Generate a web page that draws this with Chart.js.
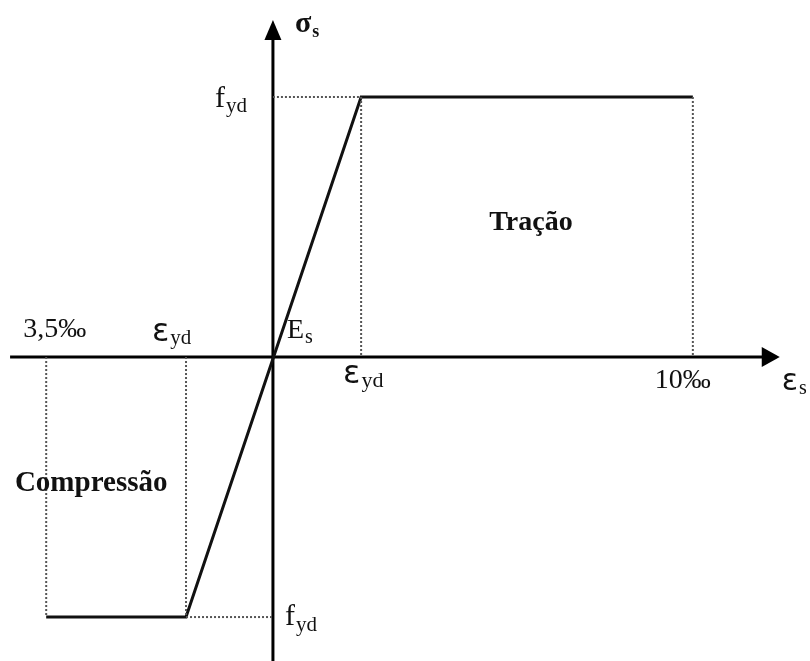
<!DOCTYPE html>
<html>
<head>
<meta charset="utf-8">
<script src="https://cdn.jsdelivr.net/npm/chart.js@4.4.0/dist/chart.umd.min.js"></script>
<style>
html, body { margin: 0; padding: 0; background: #fff; }
#wrap { width: 810px; height: 661px; }
</style>
</head>
<body>
<div id="wrap"><canvas id="chart" width="810" height="661"></canvas></div>
<script>
// strain in per mille as drawn (diagram is not to scale), stress normalised to fyd = 1
var strainPts = [-5.4, -2.07, 2.1, 10];
var stressPts = [-1, -1, 1, 1];
var epsLimitComp = -5.4;
var epsYdComp = -2.07;
var epsYdTrac = 2.1;
var epsLimitTrac = 10;
var fyd = 1;

var xRange = [-6.5, 12.79];
var yRange = [-1.169, 1.373];
var xAxisEnds = [-6.26, 12.07];
var yAxisEnds = [-1.169, 1.296];

function seg(x1, y1, x2, y2) {
    return [{x: x1, y: y1}, {x: x2, y: y2}];
}

var dotted = [
    seg(0, fyd, epsYdTrac, fyd),
    seg(epsYdTrac, fyd, epsYdTrac, 0),
    seg(epsLimitTrac, fyd, epsLimitTrac, 0),
    seg(epsLimitComp, 0, epsLimitComp, -fyd),
    seg(epsYdComp, 0, epsYdComp, -fyd),
    seg(epsYdComp, -fyd, 0, -fyd)
];

var datasets = [];
dotted.forEach(function(d) {
    datasets.push({data: d, borderColor: '#555', borderWidth: 2, borderDash: [2, 2], showLine: true, pointRadius: 0});
});
datasets.push({
    data: strainPts.map(function(v, i) { return {x: v, y: stressPts[i]}; }),
    borderColor: '#111', borderWidth: 3, showLine: true, pointRadius: 0
});
datasets.push({data: seg(xAxisEnds[0], 0, xAxisEnds[1] - 0.3, 0), borderColor: '#000', borderWidth: 3, showLine: true, pointRadius: 0});
datasets.push({data: seg(0, yAxisEnds[0], 0, yAxisEnds[1] - 0.05), borderColor: '#000', borderWidth: 3, showLine: true, pointRadius: 0});

var serif = '"Liberation Serif", "Times New Roman", serif';
var sans = '"DejaVu Sans", sans-serif';

// text labels: anchored to data coords, dx/dy offsets in px
var labels = [
    {t: 'σ', s: 's', ax: 0, ay: yAxisEnds[1], dx: 22, dy: 12, f: 'bold 30px ' + serif, sf: 'bold 18px ' + serif, sdy: 5},
    {t: 'f', s: 'yd', ax: 0, ay: fyd, dx: -58, dy: 10, f: '30px ' + serif, sf: '21px ' + serif, sdy: 5},
    {t: '3,5‰', ax: epsLimitComp, ay: 0, dx: -23, dy: -20, f: '28px ' + serif},
    {t: 'ε', s: 'yd', ax: epsYdComp, ay: 0, dx: -34, dy: -16, f: '32px ' + sans, sf: '21px ' + serif, sdy: 3},
    {t: 'E', s: 's', ax: 0, ay: 0, dx: 14, dy: -19, f: '28px ' + serif, sf: '20px ' + serif, sdy: 5},
    {t: 'ε', s: 'yd', ax: epsYdTrac, ay: 0, dx: -18, dy: 26, f: '32px ' + sans, sf: '22px ' + serif, sdy: 4},
    {t: '10‰', ax: epsLimitTrac, ay: 0, dx: -38, dy: 31, f: '28px ' + serif},
    {t: 'ε', s: 's', ax: xAxisEnds[1], ay: 0, dx: 2, dy: 33, f: '30px ' + sans, sf: '20px ' + serif, sdy: 4},
    {t: 'Compressão', ax: epsLimitComp, ay: -fyd / 2, dx: 45, dy: 4, f: 'bold 29px ' + serif, center: true},
    {t: 'Tração', ax: (epsYdTrac + epsLimitTrac) / 2, ay: fyd / 2, dx: 4, dy: 3, f: 'bold 28px ' + serif, center: true}
];
labels.push({t: 'f', s: 'yd', ax: 0, ay: -fyd, dx: 12, dy: 8, f: '30px ' + serif, sf: '21px ' + serif, sdy: 6});

var decor = {
    id: 'decor',
    afterDatasetsDraw: function(chart) {
        var ctx = chart.ctx;
        var xs = chart.scales.x, ys = chart.scales.y;
        var ox = xs.getPixelForValue(0), oy = ys.getPixelForValue(0);
        ctx.save();
        ctx.fillStyle = '#000';
        // x arrow
        var tx = xs.getPixelForValue(xAxisEnds[1]);
        ctx.beginPath();
        ctx.moveTo(tx, oy);
        ctx.lineTo(tx - 18, oy - 10);
        ctx.lineTo(tx - 18, oy + 10);
        ctx.closePath();
        ctx.fill();
        // y arrow
        var ty = ys.getPixelForValue(yAxisEnds[1]);
        ctx.beginPath();
        ctx.moveTo(ox, ty);
        ctx.lineTo(ox - 8.5, ty + 20);
        ctx.lineTo(ox + 8.5, ty + 20);
        ctx.closePath();
        ctx.fill();

        ctx.fillStyle = '#111';
        ctx.textBaseline = 'alphabetic';
        labels.forEach(function(l) {
            var px = xs.getPixelForValue(l.ax) + l.dx;
            var py = ys.getPixelForValue(l.ay) + l.dy;
            ctx.font = l.f;
            ctx.textAlign = l.center ? 'center' : 'left';
            ctx.fillText(l.t, px, py);
            if (l.s) {
                var w = ctx.measureText(l.t).width;
                ctx.font = l.sf;
                ctx.textAlign = 'left';
                ctx.fillText(l.s, px + w + 1, py + l.sdy);
            }
        });
        ctx.restore();
    }
};

new Chart(document.getElementById('chart'), {
    type: 'scatter',
    data: {datasets: datasets},
    options: {
        responsive: false,
        animation: false,
        layout: {padding: 0},
        plugins: {legend: {display: false}, tooltip: {enabled: false}},
        elements: {line: {tension: 0}},
        scales: {
            x: {type: 'linear', display: false, min: xRange[0], max: xRange[1]},
            y: {type: 'linear', display: false, min: yRange[0], max: yRange[1]}
        }
    },
    plugins: [decor]
});
</script>
</body>
</html>
